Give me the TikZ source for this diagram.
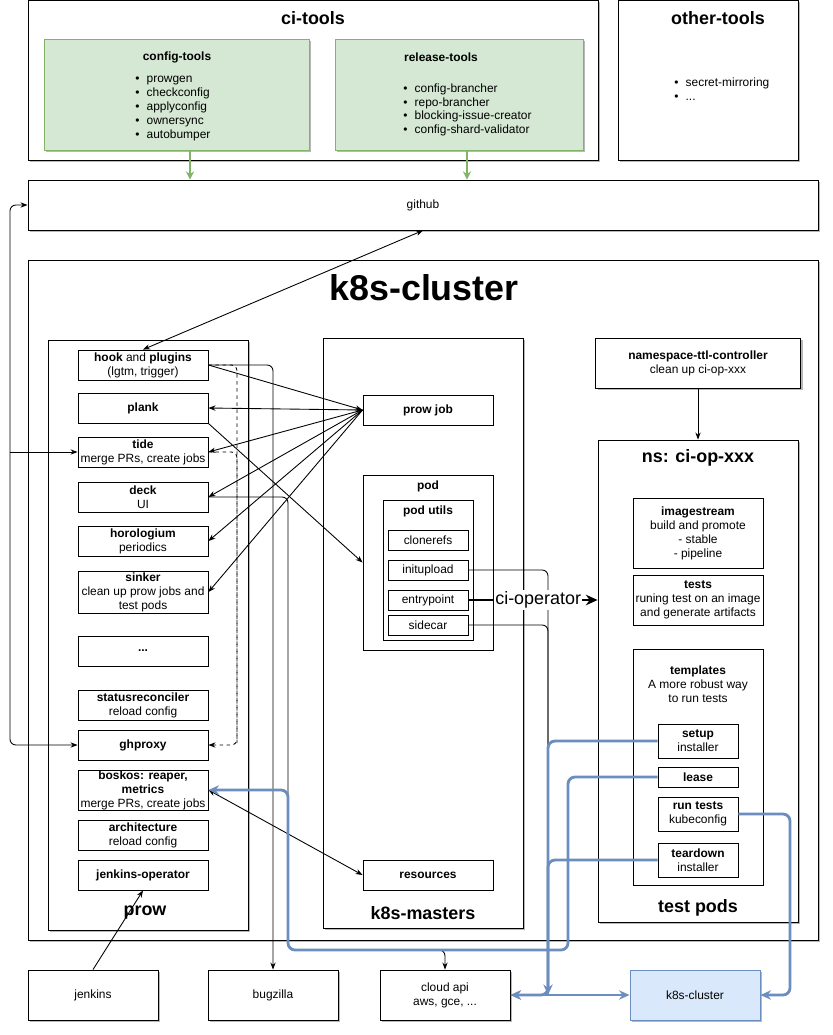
\documentclass[tikz,border=0pt]{standalone}
\usepackage{fontspec}
\setmainfont{Liberation Sans}
\usetikzlibrary{arrows.meta,shadows}
\definecolor{grnfill}{HTML}{D5E8D4}
\definecolor{grnline}{HTML}{82B366}
\definecolor{blufill}{HTML}{DAE8FC}
\definecolor{bluline}{HTML}{6C8EBF}
\tikzset{
	box/.style n args={2}{draw, fill=white, minimum width=#1*0.03cm, minimum height=#2*0.03cm, inner sep=0pt, align=center, font=\fontsize{10.2}{11.9}\selectfont},
	shd/.style={drop shadow={shadow xshift=2pt, shadow yshift=-2pt, fill=black!35, opacity=.8}},
	txt/.style={inner sep=0pt, align=center, font=\fontsize{10.2}{11.9}\selectfont},
	lst/.style={inner sep=0pt, align=left, anchor=north west, font=\fontsize{10.2}{11.9}\selectfont},
	hdr/.style={inner sep=0pt, font=\bfseries\fontsize{15.3}{18}\selectfont},
	arr/.style={-{Stealth[length=6pt,width=4.5pt]}},
	darr/.style={{Stealth[length=6pt,width=4.5pt]}-{Stealth[length=6pt,width=4.5pt]}},
	garr/.style={-{Stealth[length=7pt,width=7pt]}, grnline, line width=1.6pt},
	barr/.style={-{Stealth[length=9pt,width=8pt]}, bluline, line width=2.4pt, rounded corners=6pt},
}
\begin{document}
\begin{tikzpicture}[x=0.03cm, y=-0.03cm, line width=0.75pt]
	\useasboundingbox (0,0) rectangle (832,1035);

	\node[box={570}{160}, shd] (citools) at (313,80) {}; \node[hdr] (citoolslbl) at (313,18) {ci-tools};
	\node[box={265}{111}, shd, fill=grnfill, draw=grnline] (config) at (176.5,94.5) {};
	\node[txt, font=\bfseries\fontsize{10.2}{11.9}\selectfont] (configlbl) at (177,57) {config-tools};
	\node[lst] (configlst) at (135,76) {\textbullet\hspace{6pt}prowgen\\ \textbullet\hspace{6pt}checkconfig\\ \textbullet\hspace{6pt}applyconfig\\ \textbullet\hspace{6pt}ownersync\\ \textbullet\hspace{6pt}autobumper};
	\node[box={248}{111}, shd, fill=grnfill, draw=grnline] (release) at (459,94.5) {};
	\node[txt, font=\bfseries\fontsize{10.2}{11.9}\selectfont] (releaselbl) at (441,57) {release-tools};
	\node[lst] (releaselst) at (403,83) {\textbullet\hspace{6pt}config-brancher\\ \textbullet\hspace{6pt}repo-brancher\\ \textbullet\hspace{6pt}blocking-issue-creator\\ \textbullet\hspace{6pt}config-shard-validator};
	\node[box={180}{160}, shd] (other) at (708,80) {}; \node[hdr] (otherlbl) at (718,18) {other-tools};
	\node[lst] (otherlst) at (674,77) {\textbullet\hspace{6pt}secret-mirroring\\ \textbullet\hspace{6pt}...};

	\node[box={790}{50}, shd] (github) at (423,205) {github};

	\node[box={790}{680}, shd] (cluster) at (423,600) {};
	\node[inner sep=0pt, font=\bfseries\fontsize{30.6}{36}\selectfont] (clusterlbl) at (424,288) {k8s-cluster};

	\node[box={200}{590}, shd] (prow) at (148,635) {}; \node[hdr] (prowlbl) at (145,913) {prow};
	\node[box={130}{30}] (hook) at (143,365) {\textbf{hook} and \textbf{plugins}\\(lgtm, trigger)};
	\node[box={130}{30}] (plank) at (143,408) {\textbf{plank}};
	\node[box={130}{30}] (tide) at (143,452) {\textbf{tide}\\merge PRs, create jobs};
	\node[box={130}{30}] (deck) at (143,497) {\textbf{deck}\\UI};
	\node[box={130}{30}] (horologium) at (143,541) {\textbf{horologium}\\periodics};
	\node[box={130}{42}] (sinker) at (143,592) {\textbf{sinker}\\clean up prow jobs and\\test pods};
	\node[box={130}{30}] (more) at (143,651) {\textbf{...}};
	\node[box={130}{30}] (statusrec) at (143,705) {\textbf{statusreconciler}\\reload config};
	\node[box={130}{30}] (ghproxy) at (143,745) {\textbf{ghproxy}};
	\node[box={130}{40}] (boskos) at (143,790) {\textbf{boskos: reaper,}\\\textbf{metrics}\\merge PRs, create jobs};
	\node[box={130}{30}] (arch) at (143,835) {\textbf{architecture}\\reload config};
	\node[box={130}{30}] (jenkinsop) at (143,875) {\textbf{jenkins-operator}};

	\node[box={200}{590}, shd] (masters) at (423,633) {}; \node[hdr] (masterslbl) at (423,913) {k8s-masters};
	\node[box={130}{30}] (prowjob) at (428,410) {\textbf{prow job}};
	\node[box={130}{175}] (pod) at (428,562.5) {}; \node[txt, font=\bfseries\fontsize{10.2}{11.9}\selectfont] (podlbl) at (428,486) {pod};
	\node[box={90}{140}] (podutils) at (428,570) {}; \node[txt, font=\bfseries\fontsize{10.2}{11.9}\selectfont] (podutilslbl) at (428,511) {pod utils};
	\node[box={80}{20}] (clonerefs) at (428,540) {clonerefs};
	\node[box={80}{20}] (initupload) at (428,570) {initupload};
	\node[box={80}{20}] (entrypoint) at (428,600) {entrypoint};
	\node[box={80}{20}] (sidecar) at (428,625) {sidecar};
	\node[box={130}{30}] (resources) at (428,875) {\textbf{resources}};

	\node[box={205}{50}, shd] (ttl) at (698,363) {\textbf{namespace-ttl-controller}\\clean up ci-op-xxx};
	\node[box={200}{482}, shd] (ns) at (698,681) {};
	\node[hdr] (nslbl) at (698,458) {ns: ci-op-xxx}; \node[hdr] (testpodslbl) at (698,908) {test pods};
	\node[box={130}{70}] (imagestream) at (698,533) {\textbf{imagestream}\\build and promote\\- stable\\- pipeline};
	\node[box={130}{50}] (tests) at (698,600) {\textbf{tests}\\runing test on an image\\and generate artifacts};
	\node[box={130}{236}] (templates) at (698,767) {};
	\node[txt] (templateslbl) at (698,684) {\textbf{templates}\\A more robust way\\to run tests};
	\node[box={80}{34}] (setup) at (698,741) {\textbf{setup}\\installer};
	\node[box={80}{20}] (lease) at (698,777) {\textbf{lease}};
	\node[box={80}{34}] (runtests) at (698,814) {\textbf{run tests}\\kubeconfig};
	\node[box={80}{34}] (teardown) at (698,860) {\textbf{teardown}\\installer};

	\node[box={130}{50}, shd] (jenkins) at (93,995) {jenkins};
	\node[box={130}{50}, shd] (bugzilla) at (273,995) {bugzilla};
	\node[box={130}{50}, shd] (cloudapi) at (445,995) {cloud api\\aws, gce, ...};
	\node[box={130}{50}, shd, fill=blufill, draw=bluline] (k8scl) at (695,995) {k8s-cluster};

	\coordinate (cfgx) at (190,0);
	\coordinate (relx) at (467,0);
	\coordinate (lft) at (10,452);
	\coordinate (dsh) at (237,745);
	\coordinate (dck) at (288,950);
	\coordinate (ini) at (548,995);
	\coordinate (rtc) at (790,995);
	\coordinate (lsa) at (568,950);
	\coordinate (lsb) at (288,790);

	\draw[garr] (config.south -| cfgx) -- (github.north -| cfgx);
	\draw[garr] (release.south -| relx) -- (github.north -| relx);
	\draw[darr] (github.south) -- (hook.north);
	\draw[darr, rounded corners=5pt] (github.west) -| (lft) |- (ghproxy.west); \draw[arr] (lft) -- (tide.west);

	\draw[arr] (hook.east) -- (prowjob.west);
	\draw[darr] (plank.east) -- (prowjob.west);
	\foreach \n in {tide,deck,horologium,sinker} \draw[arr] (prowjob.west) -- (\n.east);
	\draw[arr] (plank.south east) -- (pod.west);
	\draw[darr] (boskos.east) -- (resources.west);
	\draw[arr] (jenkins.north) -- (jenkinsop.south);

	\draw[arr, rounded corners=5pt] (hook.east) -| (bugzilla.north);
	\draw[dashed, rounded corners=5pt] (hook.east) -| (dsh);
	\draw[arr, dashed, rounded corners=5pt] (tide.east) -| (dsh) -- (ghproxy.east);
	\draw[arr, rounded corners=5pt] (deck.east) -| (dck) -| (cloudapi.north);
	\draw[rounded corners=5pt] (initupload.east) -| (ini) -- (cloudapi.east);
	\draw[rounded corners=5pt] (sidecar.east) -| (ini);
	\draw[-{Stealth[length=10pt,width=9pt]}, line width=2.5pt] (entrypoint.east) -- node[pos=0.54, fill=white, inner sep=1pt, font=\fontsize{15.3}{18}\selectfont] (ciop) {ci-operator} (entrypoint.east -| ns.west);
	\draw[arr] (ttl.south) -- (ns.north);

	\draw[barr] (runtests.east) -| (rtc) -- (k8scl.east);
	\draw[barr] (setup.west) -| (ini) -- (cloudapi.east);
	\draw[barr] (teardown.west) -| (ini);
	\draw[barr] (lease.west) -| (lsa) -| (lsb) -- (boskos.east);
	\draw[barr, {Stealth[length=9pt,width=8pt]}-{Stealth[length=9pt,width=8pt]}] (cloudapi.east) -- (k8scl.west);
\end{tikzpicture}
\end{document}
